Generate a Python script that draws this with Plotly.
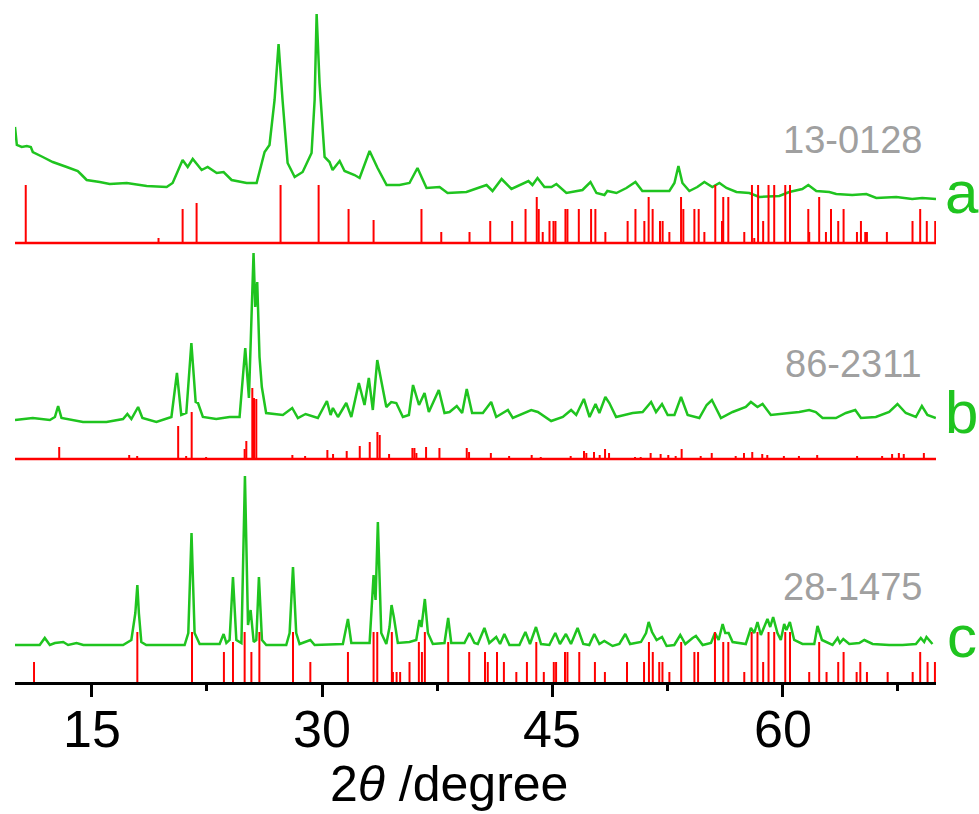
import plotly.graph_objects as go

# ---------------- data (2theta in degrees, intensity in a.u.) ----------------
# Pattern a (measured) and reference card 13-0128
a_x = [10.0, 10.12, 10.44, 10.77, 11.03, 11.16, 11.81, 12.46, 13.37, 14.09,
       14.35, 14.67, 15.52, 16.17, 17.28, 18.58, 19.88, 20.27, 20.92, 21.25,
       21.58, 22.16, 22.55, 23.14, 23.59, 24.11, 25.09, 25.74, 26.26, 26.58,
       26.91, 27.17, 27.43, 27.76, 28.22, 28.74, 29.32, 29.52, 29.65, 29.84,
       30.17, 30.49, 30.69, 31.15, 31.47, 32.12, 32.45, 33.10, 33.62, 34.21,
       35.05, 35.70, 36.22, 36.81, 37.66, 38.18, 39.41, 40.26, 40.72, 41.11,
       41.70, 42.34, 43.06, 43.45, 43.71, 44.04, 44.49, 44.95, 45.27, 45.92,
       46.97, 47.49, 47.88, 48.40, 48.59, 49.18, 49.83, 50.42, 50.87, 51.78,
       52.63, 52.96, 53.22, 53.48, 53.93, 54.45, 54.91, 55.43, 55.89, 56.35,
       57.0, 57.84, 58.49, 59.79, 60.44, 61.29, 61.68, 62.20, 63.05, 63.50,
       64.54, 65.46, 66.11, 67.41, 68.45, 69.10, 70.0]
a_y = [116, 98, 96, 97, 96, 91, 86, 81, 76, 72,
       68, 63, 61, 59, 60, 57, 56, 60, 83, 76,
       84, 73, 76, 70, 71, 63, 60, 60, 91, 98,
       143, 199, 143, 80, 66, 71, 90, 143, 229, 160,
       86, 81, 73, 82, 72, 68, 65, 92, 75, 58,
       58, 60, 75, 55, 56, 50, 51, 56, 58, 52,
       64, 54, 59, 62, 58, 65, 56, 56, 59, 50,
       53, 61, 50, 48, 52, 50, 55, 61, 52, 52,
       52, 60, 77, 60, 52, 56, 61, 56, 60, 55,
       51, 50, 46, 47, 51, 54, 58, 52, 51, 49,
       48, 49, 45, 46, 44, 45, 44]
ref_a_pos = [10.70, 19.35, 20.92, 21.83, 27.30, 29.78, 31.73, 33.36, 36.48, 37.77,
             39.61, 40.96, 42.39, 43.26, 43.99, 44.12, 44.38, 44.82, 45.08, 45.21,
             45.86, 45.99, 46.73, 47.53, 47.81, 48.46, 49.91, 50.42, 51.00, 51.28,
             51.54, 52.02, 52.19, 52.63, 53.39, 53.54, 54.26, 54.54, 54.91, 55.62,
             56.06, 56.14, 56.47, 57.51, 58.01, 58.16, 58.41, 58.74, 59.09, 59.46,
             60.18, 60.49, 61.68, 61.74, 62.39, 62.83, 63.16, 63.63, 63.98, 64.85,
             65.11, 65.39, 65.50, 66.80, 68.47, 68.97, 69.40, 69.95]
ref_a_int = [58, 5, 34, 40, 58, 58, 34, 23, 34, 11,
             11, 22, 22, 34, 46, 34, 11, 22, 22, 22,
             34, 34, 34, 34, 34, 11, 22, 34, 22, 46,
             34, 22, 22, 11, 46, 34, 34, 34, 11, 58,
             22, 46, 46, 11, 58, 5, 58, 22, 58, 58,
             58, 58, 34, 11, 46, 11, 34, 22, 34, 11,
             22, 11, 11, 11, 22, 34, 22, 22]

# Pattern b (measured) and reference card 86-2311
b_x = [10.0, 11.16, 12.27, 12.60, 12.81, 13.03, 14.43, 15.96, 17.04, 17.32,
       17.58, 18.02, 18.30, 19.21, 20.19, 20.55, 20.83, 21.16, 21.49, 21.77,
       21.92, 22.24, 23.11, 23.98, 24.63, 25.00, 25.24, 25.54, 25.65, 25.78,
       25.93, 26.08, 26.36, 27.45, 28.06, 28.43, 28.93, 29.73, 30.32, 30.56,
       30.71, 31.04, 31.58, 31.91, 32.40, 32.77, 33.05, 33.31, 33.60, 33.86,
       34.19, 34.51, 34.84, 35.27, 35.66, 35.93, 36.32, 36.68, 36.96, 37.61,
       37.98, 38.31, 38.78, 39.13, 39.43, 39.78, 40.48, 41.02, 41.35, 42.11,
       42.43, 43.63, 44.06, 44.93, 45.69, 46.23, 46.56, 47.06, 47.43, 47.82,
       48.07, 48.46, 48.72, 49.16, 50.24, 50.89, 51.44, 51.76, 52.15, 52.52,
       52.96, 53.39, 53.82, 54.58, 55.06, 55.40, 55.99, 56.75, 57.61, 57.94,
       58.37, 58.70, 59.24, 60.44, 61.09, 61.74, 62.17, 62.61, 63.48, 64.13,
       64.74, 65.11, 66.08, 66.95, 67.49, 68.03, 68.69, 69.08, 69.44, 69.99]
b_y = [39, 41, 39, 42, 53, 41, 37, 37, 40, 45,
       40, 52, 41, 37, 42, 86, 44, 46, 116, 57,
       56, 42, 40, 42, 42, 111, 61, 206, 152, 177,
       102, 72, 46, 44, 51, 41, 45, 41, 58, 44,
       51, 42, 56, 42, 76, 54, 81, 49, 99, 79,
       52, 57, 56, 42, 44, 74, 54, 66, 47, 69,
       46, 47, 53, 46, 70, 46, 46, 57, 42, 49,
       41, 49, 47, 38, 42, 49, 44, 60, 42, 55,
       46, 62, 56, 42, 46, 47, 57, 47, 55, 44,
       44, 62, 44, 41, 54, 59, 41, 47, 52, 57,
       52, 55, 44, 46, 47, 49, 47, 41, 41, 46,
       49, 41, 42, 47, 55, 46, 42, 53, 44, 41]
ref_b_pos = [12.88, 17.44, 17.96, 20.63, 21.15, 21.51, 22.45, 24.96, 25.07, 25.46,
             25.57, 25.72, 28.07, 28.90, 30.35, 30.72, 31.61, 32.46, 33.11, 33.61,
             33.76, 34.37, 35.89, 36.02, 36.15, 36.78, 37.65, 38.93, 39.43, 39.58,
             41.00, 42.19, 43.66, 44.25, 46.20, 47.07, 47.22, 47.72, 48.09, 48.44,
             48.70, 50.39, 50.76, 51.41, 52.06, 52.56, 53.04, 53.43, 54.67, 55.39,
             56.95, 57.49, 58.03, 58.68, 59.01, 60.09, 61.07, 62.26, 64.86, 66.49,
             67.14, 67.58, 67.90, 69.21]
ref_b_int = [12, 4, 3, 33, 3, 47, 2, 10, 18, 71,
             61, 60, 4, 3, 9, 5, 8, 13, 17, 27,
             24, 5, 11, 11, 6, 12, 11, 1, 11, 7,
             6, 3, 4, 2, 3, 8, 6, 7, 4, 10,
             6, 2, 2, 6, 5, 4, 3, 10, 3, 6,
             3, 6, 7, 5, 4, 3, 3, 4, 3, 3,
             5, 6, 5, 6]

# Pattern c (measured) and reference card 28-1475
c_x = [10.0, 11.61, 11.94, 12.27, 12.60, 13.14, 13.46, 14.01, 14.45, 17.04,
       17.58, 17.84, 17.97, 18.07, 18.23, 18.55, 21.05, 21.29, 21.50, 21.70,
       22.03, 23.33, 23.59, 23.77, 23.98, 24.20, 24.42, 24.75, 24.98, 25.18,
       25.35, 25.55, 25.72, 25.89, 26.09, 26.37, 27.67, 27.89, 28.11, 28.32,
       28.54, 29.24, 29.52, 31.36, 31.69, 31.91, 33.10, 33.36, 33.49, 33.64,
       33.86, 34.19, 34.40, 34.53, 34.68, 34.94, 35.70, 36.14, 36.35, 36.48,
       36.70, 36.90, 37.22, 37.98, 38.22, 38.42, 39.28, 39.61, 39.93, 40.15,
       40.58, 40.90, 41.35, 41.60, 41.88, 42.21, 42.86, 43.25, 43.55, 43.94,
       44.27, 44.81, 45.20, 45.50, 45.89, 46.22, 46.65, 47.02, 47.41, 47.74,
       48.07, 48.39, 48.93, 49.37, 49.76, 50.07, 50.78, 51.11, 51.28, 51.50,
       51.80, 52.15, 52.45, 52.95, 53.34, 53.67, 54.14, 54.36, 54.80, 55.34,
       55.60, 55.84, 56.10, 56.27, 56.49, 56.75, 57.61, 57.94, 58.16, 58.37,
       58.59, 59.02, 59.20, 59.39, 59.67, 59.89, 60.11, 60.26, 60.48, 60.76,
       61.30, 62.07, 62.28, 62.57, 63.26, 63.59, 63.74, 63.96, 64.35, 65.00,
       65.33, 65.87, 66.95, 67.82, 68.69, 69.01, 69.23, 69.38, 69.77]
c_y = [37, 37, 44, 37, 39, 40, 37, 39, 37, 37,
       42, 69, 97, 69, 40, 37, 37, 49, 149, 49,
       38, 38, 48, 39, 42, 105, 42, 39, 206, 57,
       72, 40, 42, 105, 42, 37, 37, 49, 115, 49,
       38, 42, 37, 38, 63, 39, 39, 107, 82, 160,
       49, 38, 55, 77, 65, 39, 40, 42, 62, 55,
       83, 49, 38, 39, 64, 39, 39, 49, 39, 38,
       54, 39, 45, 38, 48, 37, 37, 50, 38, 55,
       38, 37, 49, 38, 48, 38, 54, 38, 37, 48,
       38, 41, 36, 38, 48, 38, 40, 49, 60, 50,
       42, 45, 36, 37, 47, 38, 44, 46, 37, 39,
       49, 42, 58, 49, 49, 40, 38, 54, 49, 60,
       47, 63, 55, 65, 49, 42, 58, 52, 60, 42,
       38, 38, 56, 42, 37, 44, 39, 43, 38, 39,
       42, 38, 37, 37, 38, 44, 40, 45, 38]
ref_c_pos = [11.24, 17.97, 21.53, 23.61, 24.20, 24.96, 25.40, 25.92, 28.11, 29.24,
             31.69, 33.36, 33.60, 34.55, 34.62, 34.86, 35.09, 35.70, 36.31, 36.51,
             36.70, 38.22, 39.59, 40.62, 40.80, 41.40, 41.85, 42.66, 43.35, 43.96,
             44.45, 45.10, 45.25, 45.83, 45.99, 46.76, 47.78, 48.43, 49.87, 50.98,
             51.30, 51.55, 51.97, 52.18, 52.63, 53.40, 54.26, 54.50, 55.60, 56.14,
             56.47, 57.51, 57.99, 58.37, 58.74, 59.09, 59.46, 60.18, 60.49, 61.74,
             62.39, 62.87, 63.63, 63.98, 64.83, 65.07, 65.50, 66.85, 68.48, 68.97,
             69.45, 69.93]
ref_c_int = [20, 50, 50, 30, 40, 50, 30, 50, 50, 20,
             30, 50, 50, 50, 10, 10, 10, 20, 40, 30,
             50, 40, 30, 30, 20, 30, 20, 10, 20, 40,
             10, 20, 20, 30, 30, 30, 20, 10, 20, 20,
             40, 30, 20, 20, 10, 40, 30, 30, 50, 40,
             40, 10, 50, 50, 20, 50, 50, 50, 50, 10,
             40, 10, 20, 30, 10, 20, 10, 10, 10, 30,
             20, 20]

card_labels = ["13-0128", "86-2311", "28-1475"]
panel_letters = ["a", "b", "c"]
x_ticks = [15, 30, 45, 60]
x_minor_ticks = [22.5, 37.5, 52.5, 67.5]

# vertical stacking offsets (a.u.)
OFF_A, OFF_B, OFF_C = 439, 223, 0

GREEN = "#1fc41f"
RED = "#ff0000"
GRAY = "#a0a0a0"
FONT = "Liberation Sans, Arial"


def sticks(pos, inten, base):
    xs, ys = [], []
    for p, h in zip(pos, inten):
        xs += [p, p, None]
        ys += [base, base + h, None]
    return xs, ys


fig = go.Figure()

for xs, ys, off in [(a_x, a_y, OFF_A), (b_x, b_y, OFF_B), (c_x, c_y, OFF_C)]:
    fig.add_trace(go.Scatter(x=xs, y=[v + off for v in ys], mode="lines",
                             line=dict(color=GREEN, width=2.5), hoverinfo="skip"))

for pos, inten, off in [(ref_a_pos, ref_a_int, OFF_A), (ref_b_pos, ref_b_int, OFF_B),
                        (ref_c_pos, ref_c_int, OFF_C)]:
    sx, sy = sticks(pos, inten, off)
    fig.add_trace(go.Scatter(x=sx, y=sy, mode="lines",
                             line=dict(color=RED, width=2), hoverinfo="skip"))

# baselines of the reference cards a and b
for off in (OFF_A, OFF_B):
    fig.add_trace(go.Scatter(x=[10, 70], y=[off, off], mode="lines",
                             line=dict(color=RED, width=2.5), hoverinfo="skip"))

annotations = []
for lab, yv in zip(card_labels, [542, 318, 95]):
    annotations.append(dict(x=69.25, y=yv, xref="x", yref="y", text=lab,
                            showarrow=False, xanchor="right", yanchor="middle",
                            font=dict(size=38, color=GRAY, family=FONT)))
for lab, yv in zip(panel_letters, [490, 270, 46]):
    annotations.append(dict(x=1.028, y=yv, xref="paper", yref="y", text=lab,
                            showarrow=False, xanchor="center", yanchor="middle",
                            font=dict(size=60, color=GREEN, family=FONT)))
# tick labels of the 2-theta axis
for t in x_ticks:
    annotations.append(dict(x=t, y=-0.070, xref="x", yref="paper", text=str(t),
                            showarrow=False, xanchor="center", yanchor="middle",
                            font=dict(size=52, color="black", family=FONT)))
annotations.append(dict(x=38.27, y=-0.152, xref="x", yref="paper",
                        text="2<i>θ</i> /degree", showarrow=False,
                        xanchor="center", yanchor="middle",
                        font=dict(size=50, color="black", family=FONT)))

fig.update_layout(
    width=979, height=814,
    margin=dict(l=15, r=43, t=10, b=132),
    plot_bgcolor="white", paper_bgcolor="white",
    showlegend=False,
    annotations=annotations,
    xaxis=dict(range=[10, 70], tickvals=x_ticks, showticklabels=False,
               ticks="outside", ticklen=12, tickwidth=2.5, tickcolor="black",
               showline=True, linewidth=3, linecolor="black",
               showgrid=False, zeroline=False,
               minor=dict(tickvals=x_minor_ticks, ticks="outside",
                          ticklen=6, tickwidth=2.5, tickcolor="black", showgrid=False)),
    yaxis=dict(range=[0, 672], visible=False, showgrid=False, zeroline=False),
)

fig.write_html("out.html")
